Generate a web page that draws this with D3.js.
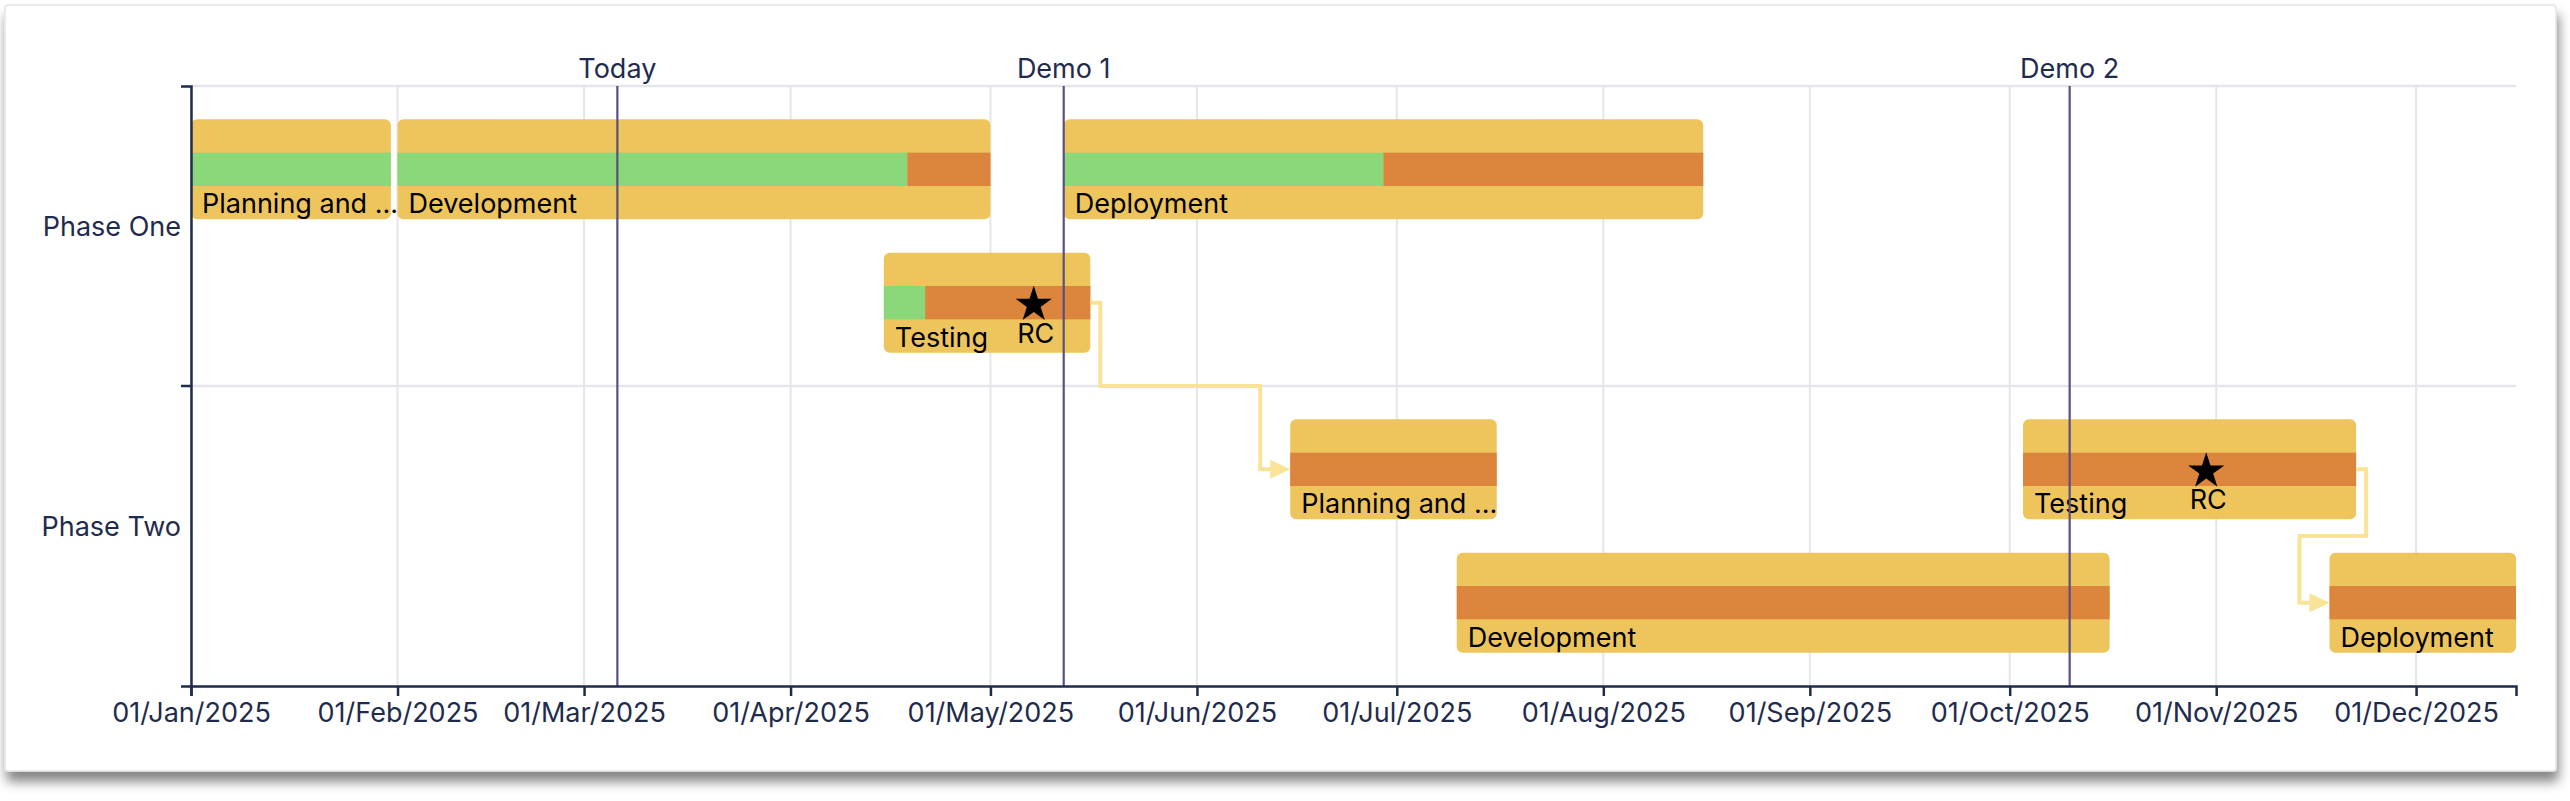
<!DOCTYPE html>
<html>
<head>
<meta charset="utf-8">
<script src="https://cdn.jsdelivr.net/npm/d3@7"></script>
<style>
  html, body { margin: 0; padding: 0; background: #ffffff; }
  svg { display: block; }
  text { font-family: Inter, "Noto Sans", Roboto, sans-serif; }
</style>
</head>
<body>
<svg id="chart" width="2570" height="801"></svg>
<script>
// ---------------- DATA ----------------
const phases = ["Phase One", "Phase Two"];

const taskNames    = ["Planning and ...", "Development", "Deployment", "Testing",
                      "Planning and ...", "Testing", "Development", "Deployment"];
const taskPhase    = ["Phase One", "Phase One", "Phase One", "Phase One",
                      "Phase Two", "Phase Two", "Phase Two", "Phase Two"];
const taskRow      = [0, 0, 0, 1, 0, 0, 1, 1];
const taskStart    = ["2025-01-01", "2025-02-01", "2025-05-12", "2025-04-15",
                      "2025-06-15", "2025-10-03", "2025-07-10", "2025-11-18"];
const taskEnd      = ["2025-01-31", "2025-05-01", "2025-08-16", "2025-05-16",
                      "2025-07-16", "2025-11-22", "2025-10-16", "2025-12-16"];
const taskProgress = [1.0, 0.86, 0.50, 0.20, 0, 0, 0, 0];

const milestoneNames = ["RC", "RC"];
const milestoneTask  = [3, 5];
const milestoneDates = ["2025-05-07T12:00Z", "2025-10-30T12:00Z"];

const dependencyFrom = [3, 5];
const dependencyTo   = [4, 7];

const markerNames = ["Today", "Demo 1", "Demo 2"];
const markerDates = ["2025-03-06", "2025-05-12", "2025-10-10"];

// ---------------- LAYOUT ----------------
const W = 2570, H = 801;
const margin = { left: 191, right: 54, top: 86, bottom: 115 };
const navy = "#1f2b4d";
const yellow = "#eec55c", green = "#8ad879", orange = "#db853d";
const depColor = "#f9e396", markerColor = "#5c4e80", gridColor = "#e5e5eb";
const fontSize = 27;

const parse = s => d3.isoParse(s.length === 10 ? s + "T00:00Z" : s);
const tasks = taskNames.map((n, i) => ({
  name: n, phase: taskPhase[i], row: taskRow[i],
  start: parse(taskStart[i]), end: parse(taskEnd[i]), progress: taskProgress[i]
}));

const svg = d3.select("#chart");

// card
const defs = svg.append("defs");
const f = defs.append("filter").attr("id", "shadow")
  .attr("x", "-5%").attr("y", "-5%").attr("width", "110%").attr("height", "120%");
f.append("feDropShadow").attr("dx", 2).attr("dy", 10).attr("stdDeviation", 6)
  .attr("flood-color", "#000").attr("flood-opacity", 0.48);
svg.append("rect").attr("x", 5).attr("y", 5).attr("width", 2551).attr("height", 766)
  .attr("rx", 3).attr("fill", "#fff").attr("stroke", "#e3e3e3").attr("stroke-width", 1.5)
  .attr("filter", "url(#shadow)");

const x = d3.scaleUtc()
  .domain([d3.min(tasks, d => d.start), d3.max(tasks, d => d.end)])
  .range([margin.left, W - margin.right]);

const y = d3.scaleBand().domain(phases)
  .range([margin.top, H - margin.bottom]).padding(0);

const sub = d3.scaleBand().domain([0, 1]).range([0, y.bandwidth()])
  .paddingInner(0.25).paddingOuter(0.25);
const barH = sub.bandwidth();
const rowTop = d => y(d.phase) + sub(d.row);

const ticks = x.ticks(d3.utcMonth.every(1));

// grid
const grid = svg.append("g");
grid.selectAll("line.v").data(ticks).join("line")
  .attr("x1", d => x(d)).attr("x2", d => x(d))
  .attr("y1", margin.top).attr("y2", H - margin.bottom)
  .attr("stroke", gridColor).attr("stroke-width", 2);
grid.selectAll("line.h").data(phases).join("line")
  .attr("x1", margin.left).attr("x2", W - margin.right)
  .attr("y1", d => y(d)).attr("y2", d => y(d))
  .attr("stroke", gridColor).attr("stroke-width", 2.5);

// bars
const bars = svg.append("g").selectAll("g").data(tasks).join("g");
bars.append("rect")
  .attr("x", d => x(d.start)).attr("y", d => rowTop(d))
  .attr("width", d => x(d.end) - x(d.start)).attr("height", barH)
  .attr("rx", 6).attr("fill", yellow);
bars.append("rect")
  .attr("x", d => x(d.start)).attr("y", d => rowTop(d) + barH / 3)
  .attr("width", d => (x(d.end) - x(d.start)) * d.progress).attr("height", barH / 3)
  .attr("fill", green);
bars.append("rect")
  .attr("x", d => x(d.start) + (x(d.end) - x(d.start)) * d.progress)
  .attr("y", d => rowTop(d) + barH / 3)
  .attr("width", d => (x(d.end) - x(d.start)) * (1 - d.progress)).attr("height", barH / 3)
  .attr("fill", orange);

// dependencies
const deps = svg.append("g");
dependencyFrom.forEach((fi, k) => {
  const s = tasks[fi], t = tasks[dependencyTo[k]];
  const xe = x(s.end), ys = rowTop(s) + barH / 2;
  const xs = x(t.start), yt = rowTop(t) + barH / 2;
  const ymid = (rowTop(s) + barH + rowTop(t)) / 2;
  const p = d3.path();
  p.moveTo(xe, ys); p.lineTo(xe + 10, ys); p.lineTo(xe + 10, ymid);
  p.lineTo(xs - 30, ymid); p.lineTo(xs - 30, yt); p.lineTo(xs - 19, yt);
  deps.append("path").attr("d", p.toString()).attr("fill", "none")
    .attr("stroke", depColor).attr("stroke-width", 4);
  deps.append("path")
    .attr("d", `M${xs - 20},${yt - 9.5}L${xs},${yt}L${xs - 20},${yt + 9.5}Z`)
    .attr("fill", depColor);
});

// task labels
bars.append("text")
  .attr("x", d => x(d.start) + 11).attr("y", d => rowTop(d) + barH - 6)
  .attr("font-size", fontSize).attr("fill", "#000").text(d => d.name);

// markers
const mk = svg.append("g");
markerNames.forEach((n, i) => {
  const mx = x(parse(markerDates[i]));
  mk.append("line").attr("x1", mx).attr("x2", mx)
    .attr("y1", margin.top).attr("y2", H - margin.bottom)
    .attr("stroke", markerColor).attr("stroke-width", 2.2);
  mk.append("text").attr("x", mx).attr("y", margin.top - 8)
    .attr("text-anchor", "middle").attr("font-size", fontSize).attr("fill", navy).text(n);
});

// milestones
const star = d3.symbol().type(d3.symbolStar).size(405);
milestoneNames.forEach((n, i) => {
  const t = tasks[milestoneTask[i]];
  const mx = x(parse(milestoneDates[i]));
  const cy = rowTop(t) + barH / 2 + 2;
  svg.append("path").attr("d", star()).attr("transform", `translate(${mx},${cy})`)
    .attr("fill", "#000");
  svg.append("text").attr("x", mx + 2).attr("y", rowTop(t) + barH - 10)
    .attr("text-anchor", "middle").attr("font-size", fontSize).attr("fill", "#000").text(n);
});

// x axis
const xAxis = svg.append("g").attr("transform", `translate(0,${H - margin.bottom})`)
  .call(d3.axisBottom(x).tickValues(ticks).tickFormat(d3.utcFormat("%d/%b/%Y"))
    .tickSize(10).tickSizeOuter(10));
xAxis.selectAll("path, line").attr("stroke", navy).attr("stroke-width", 2.5);
xAxis.selectAll("text").attr("font-size", fontSize).attr("fill", navy)
  .attr("font-family", "Inter, 'Noto Sans', sans-serif").attr("y", 36).attr("dy", 0);

// y axis
const yAxis = svg.append("g").attr("transform", `translate(${margin.left},0)`)
  .call(d3.axisLeft(y).tickSize(0).tickSizeOuter(10).tickPadding(10));
yAxis.selectAll("path").attr("stroke", navy).attr("stroke-width", 2.5);
yAxis.selectAll("text").attr("font-size", fontSize).attr("fill", navy)
  .attr("font-family", "Inter, 'Noto Sans', sans-serif").attr("dy", 0);
yAxis.selectAll("line.boundary").data(phases.slice(1)).join("line")
  .attr("x1", -10).attr("x2", 0).attr("y1", d => y(d)).attr("y2", d => y(d))
  .attr("stroke", navy).attr("stroke-width", 2.5);
</script>
</body>
</html>
